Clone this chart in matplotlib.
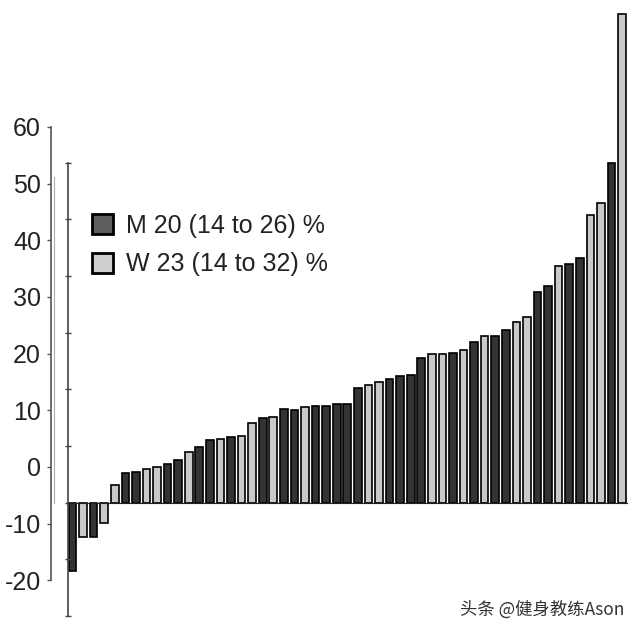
import numpy as np
import matplotlib
matplotlib.use("Agg")
import matplotlib.pyplot as plt
from matplotlib.patches import Patch

plt.rcParams['font.family'] = ['Liberation Sans', 'DejaVu Sans']

values = [-12.0, -6.1, -6.0, -3.6, 3.1, 5.3, 5.4, 6.0, 6.35, 6.9,
          7.5, 9.0, 9.8, 11.0, 11.3, 11.6, 11.8, 14.1, 15.0, 15.1,
          16.5, 16.35, 16.8, 17.0, 17.05, 17.4, 17.5, 20.2, 20.8, 21.3,
          21.8, 22.3, 22.55, 25.6, 26.25, 26.25, 26.35, 26.9, 28.4, 29.45,
          29.5, 30.5, 31.9, 32.7, 37.1, 38.2, 41.8, 42.2, 43.2, 50.8,
          52.8, 59.9, 86.2]
# 'M' dark bars, 'W' light bars
sex = list("MWMWWMMWWMMWMMWMWWMWMMWMMMMMWWMMMMWWMWMWMMWWMMWMMWWMW")
legend_labels = ["M 20 (14 to 26) %", "W 23 (14 to 32) %"]
yticks = [-20, -10, 0, 10, 20, 30, 40, 50, 60]
label_shift = 6.3  # printed labels sit higher than the ticks of the bar axis

dark = '#333333'
light = '#c9c9c9'
colors = [dark if s == 'M' else light for s in sex]

W, H = 638, 632
fig = plt.figure(figsize=(W / 100, H / 100), dpi=100)

ylim = (-22, 89)
ppu = 5.667
zero_px = 502.7
bot_px = zero_px + (0 - ylim[0]) * ppu
h_px = (ylim[1] - ylim[0]) * ppu
left_px = 67.7
xlim = (-0.45, 52.6)
w_px = (xlim[1] - xlim[0]) * 10.57

ax = fig.add_axes([left_px / W, 1 - bot_px / H, w_px / W, h_px / H])
x = np.arange(len(values))
ax.bar(x, values, width=0.72, color=colors, edgecolor='black', linewidth=1.2)
ax.set_xlim(*xlim)
ax.set_ylim(*ylim)
for s in ['top', 'right']:
    ax.spines[s].set_visible(False)
ax.spines['bottom'].set_position(('data', 0))
ax.spines['bottom'].set_bounds(-0.45, 52.45)
ax.spines['bottom'].set_color('#222222')
ax.spines['left'].set_bounds(-20, 60)
ax.spines['left'].set_color('#444444')
ax.spines['left'].set_linewidth(1.2)
ax.set_xticks([])
ax.set_yticks(yticks)
ax.set_yticklabels([])
ax.tick_params(axis='y', direction='inout', length=4, width=1.0, color='#444444')
ax.patch.set_alpha(0)

# outer labelled axis
ax2 = fig.add_axes([50.7 / W, 1 - bot_px / H, 0.001, h_px / H])
ax2.set_ylim(ylim[0] - label_shift, ylim[1] - label_shift)
for s in ['top', 'right', 'bottom']:
    ax2.spines[s].set_visible(False)
ax2.spines['left'].set_bounds(-20, 60)
ax2.spines['left'].set_color('#555555')
ax2.spines['left'].set_linewidth(1.2)
ax2.set_xticks([])
ax2.set_yticks(yticks)
ax2.set_yticklabels([str(t) for t in yticks], fontsize=18, color='#222222')
ax2.tick_params(axis='y', direction='out', length=3, width=1.0, color='#555555', pad=4)
ax2.patch.set_alpha(0)

# faint line between the two axes
ax3 = fig.add_axes([54.3 / W, 1 - bot_px / H, 0.001, h_px / H])
ax3.set_ylim(*ylim)
for s in ['top', 'right', 'bottom']:
    ax3.spines[s].set_visible(False)
ax3.spines['left'].set_bounds(0, 57.5)
ax3.spines['left'].set_color('#aaaaaa')
ax3.spines['left'].set_linewidth(0.8)
ax3.set_xticks([])
ax3.set_yticks([])
ax3.patch.set_alpha(0)

handles = [Patch(facecolor='#5e5e5e', edgecolor='black', linewidth=2),
           Patch(facecolor='#cfcfcf', edgecolor='black', linewidth=2)]
fig.legend(handles, legend_labels, loc='upper left',
           bbox_to_anchor=(74 / W, 1 - 196 / H), frameon=False,
           fontsize=18, handlelength=0.85, handleheight=0.85,
           handletextpad=0.55, labelspacing=0.6, borderpad=0.2,
           labelcolor='#222222')

fig.text(460 / W, 1 - 610 / H, "头条 @健身教练Ason", fontsize=12.5,
         family=['Noto Sans CJK SC', 'DejaVu Sans'], color='#333333',
         ha='left', va='center')

fig.savefig('out.png', dpi=100)
